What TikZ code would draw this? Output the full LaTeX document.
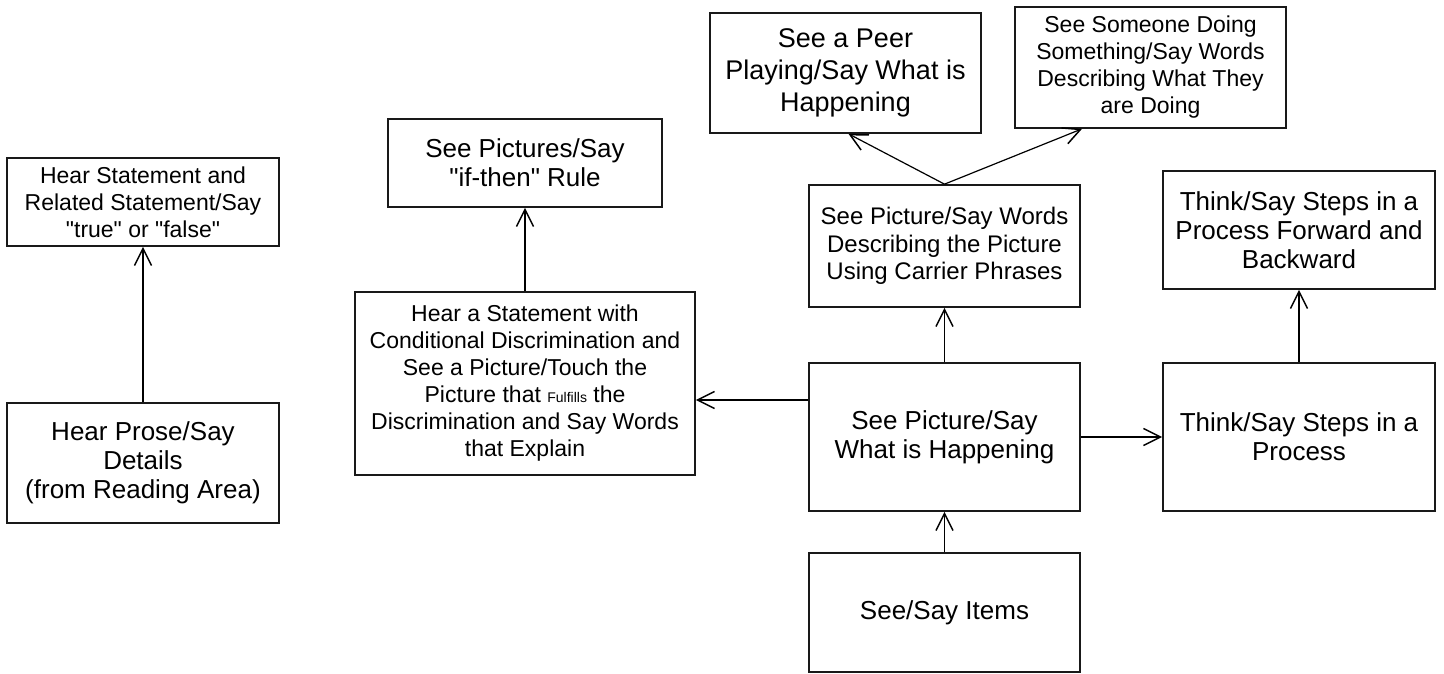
\documentclass[tikz,border=0pt]{standalone}
\usepackage{fontspec}
\setmainfont{Liberation Sans}
\usetikzlibrary{arrows.meta}

\begin{document}
\begin{tikzpicture}[x=1pt,y=-1pt,
  box/.style={draw=black!90, line width=1.7pt, align=center, inner sep=0pt},
  fa/.style={font=\fontsize{22}{26}\selectfont},
  fb/.style={font=\fontsize{23}{27}\selectfont},
  fc/.style={font=\fontsize{24}{27.5}\selectfont},
  fd/.style={font=\fontsize{26}{29}\selectfont},
  fe/.style={font=\fontsize{27}{32}\selectfont},
  conn/.style={line width=1.2pt, -{Straight Barb[length=17pt,width=17pt,line width=1.5pt]}}]

  % canvas
  \fill[white] (0,0) rectangle (1444,673);
  \useasboundingbox (0,0) rectangle (1444,673);

  % left column
  \node[box, fb, minimum width=272pt, minimum height=88pt] (b1) at (143,202)
    {Hear Statement and\\Related Statement/Say\\\textquotedbl true\textquotedbl{} or \textquotedbl false\textquotedbl};
  \node[box, fd, minimum width=272pt, minimum height=120pt] (b2) at (143,463)
    {Hear Prose/Say\\Details\\(from Reading Area)};

  % conditional discrimination column
  \node[box, fd, minimum width=274pt, minimum height=88pt] (b3) at (525,163)
    {See Pictures/Say\\\textquotedbl if-then\textquotedbl{} Rule};
  \node[box, fb, minimum width=340pt, minimum height=183pt] (b4) at (525,383.5)
    {Hear a Statement with\\Conditional Discrimination and\\See a Picture/Touch the\\
     Picture that {\fontsize{14}{14}\selectfont Fulfills} the\\Discrimination and Say Words\\that Explain};

  % top row
  \node[box, fe, minimum width=271pt, minimum height=120pt] (b5) at (845.5,73)
    {See a Peer\\Playing/Say What is\\Happening};
  \node[box, fb, minimum width=271pt, minimum height=121pt] (b6) at (1150.5,67.5)
    {See Someone Doing\\Something/Say Words\\Describing What They\\are Doing};

  % centre column
  \node[box, fc, minimum width=271pt, minimum height=122pt] (b7) at (944.5,246)
    {See Picture/Say Words\\Describing the Picture\\Using Carrier Phrases};
  \node[box, fd, minimum width=271pt, minimum height=148pt] (b8) at (944.5,437)
    {See Picture/Say\\What is Happening};
  \node[box, fd, minimum width=271pt, minimum height=119pt] (b9) at (944.5,612.5)
    {See/Say Items};

  % right column
  \node[box, fd, minimum width=272pt, minimum height=118pt] (b10) at (1299,230)
    {Think/Say Steps in a\\Process Forward and\\Backward};
  \node[box, fd, minimum width=272pt, minimum height=148pt] (b11) at (1299,437)
    {Think/Say Steps in a\\Process};

  % connectors
  \draw[conn] (b2.north) -- (b1.south);
  \draw[conn] (b4.north) -- (b3.south);
  \draw[conn] ([yshift=37pt]b8.west) -- ([yshift=37pt]b8.west -| b4.east);
  \draw[conn] (b9.north) -- (b8.south);
  \draw[conn] (b8.north) -- (b7.south);
  \draw[conn] (b8.east) -- (b11.west);
  \draw[conn] (b11.north) -- (b10.south);
  \draw[conn] (b7.north) -- ([xshift=3pt]b5.south);
  \draw[conn] (b7.north) -- ([xshift=-68.5pt]b6.south);
\end{tikzpicture}
\end{document}
